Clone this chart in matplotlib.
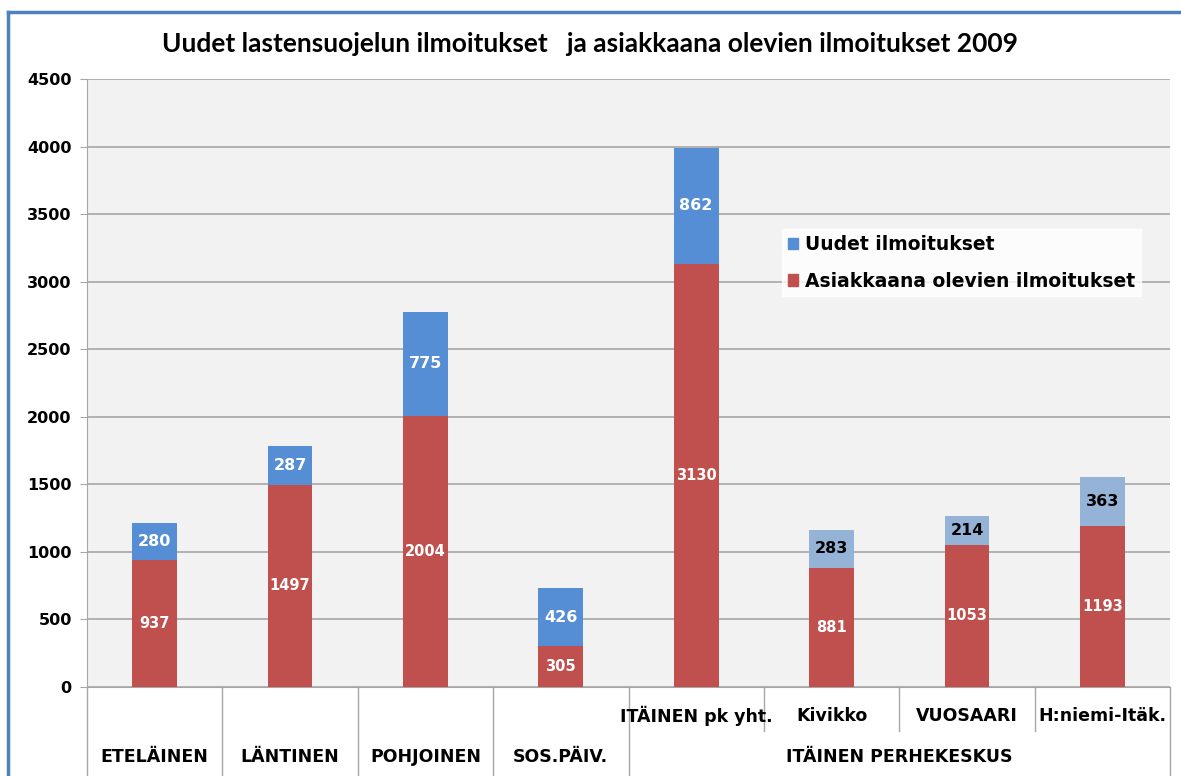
import matplotlib.pyplot as plt
from matplotlib.lines import Line2D
from matplotlib.patches import Patch

# data
groups = ["ETELÄINEN", "LÄNTINEN", "POHJOINEN", "SOS.PÄIV.", "ITÄINEN PERHEKESKUS"]
group_sizes = [1, 1, 1, 1, 4]
sub_labels = ["", "", "", "", "ITÄINEN pk yht.", "Kivikko", "VUOSAARI", "H:niemi-Itäk."]
asiakkaana = [937, 1497, 2004, 305, 3130, 881, 1053, 1193]
uudet = [280, 287, 775, 426, 862, 283, 214, 363]

RED = "#c0504d"
BLUE = "#558ed5"
LBLUE = "#95b3d7"

plt.rcParams['font.family'] = ['DejaVu Sans']

fig = plt.figure(figsize=(11.81, 7.76), dpi=100)
ax = fig.add_axes([87 / 1181, 89 / 776, 1083 / 1181, 608 / 776])
ax.set_facecolor("#f2f2f2")

x = list(range(len(asiakkaana)))
blue_cols = [BLUE] * 5 + [LBLUE] * 3
ax.bar(x, asiakkaana, width=0.33, color=RED, zorder=3)
ax.bar(x, uudet, width=0.33, bottom=asiakkaana, color=blue_cols, zorder=3)

for i in x:
    ax.text(i, asiakkaana[i] / 2, str(asiakkaana[i]), ha="center", va="center",
            color="white", fontsize=10.5, fontweight="bold", zorder=4)
    tc = "white" if i < 5 else "black"
    ax.text(i, asiakkaana[i] + uudet[i] / 2, str(uudet[i]), ha="center", va="center",
            color=tc, fontsize=11.5, fontweight="bold", zorder=4)

ax.set_xlim(-0.5, len(x) - 0.5)
ax.set_ylim(0, 4500)
ax.set_yticks(range(0, 4501, 500))
ax.yaxis.grid(True, color="#a6a6a6", linewidth=1.2, zorder=0)
ax.tick_params(axis="y", length=5, color="#a6a6a6", labelsize=11.5, pad=6)
for lab in ax.get_yticklabels():
    lab.set_fontweight("bold")
ax.set_xticks([])
for s in ["top", "right"]:
    ax.spines[s].set_visible(False)
ax.spines["left"].set_color("#a6a6a6")
ax.spines["bottom"].set_color("#a6a6a6")

# two-level category axis
tr = ax.get_xaxis_transform()
pos = -0.5
for g, n in zip(groups, group_sizes):
    ax.add_line(Line2D([pos, pos], [0, -0.2], transform=tr, color="#a6a6a6",
                       lw=1, clip_on=False))
    ax.text(pos + n / 2, -0.115, g, transform=tr, ha="center", va="center",
            fontsize=12.5, fontweight="bold")
    pos += n
ax.add_line(Line2D([pos, pos], [0, -0.2], transform=tr, color="#a6a6a6",
                   lw=1, clip_on=False))
for i, s in enumerate(sub_labels):
    if s:
        ax.text(i, -0.048, s, transform=tr, ha="center", va="center",
                fontsize=12.5, fontweight="bold")
        if i > 4:
            ax.add_line(Line2D([i - 0.5, i - 0.5], [0, -0.072], transform=tr,
                               color="#a6a6a6", lw=1, clip_on=False))

handles = [Patch(color=BLUE), Patch(color=RED)]
leg = ax.legend(handles, ["Uudet ilmoitukset", "Asiakkaana olevien ilmoitukset"],
                loc="upper left", bbox_to_anchor=(0.642, 0.753),
                prop={"weight": "bold", "size": 13.5}, frameon=True, fancybox=False,
                handlelength=0.55, handleheight=0.55, handletextpad=0.35,
                borderpad=0.3, labelspacing=0.95, borderaxespad=0)
leg.get_frame().set_edgecolor("white")
leg.get_frame().set_facecolor("white")
leg.set_zorder(5)

fig.text(0.5, 1 - 44 / 776, "Uudet lastensuojelun ilmoitukset   ja asiakkaana olevien ilmoitukset 2009",
         ha="center", va="center", fontsize=19, fontweight="bold", family=["Lato", "DejaVu Sans"])

# outer frame
fig.add_artist(Line2D([8 / 1181, 8 / 1181], [0, 1 - 12 / 776], color="#4f81bd", lw=2.5))
fig.add_artist(Line2D([8 / 1181, 1], [1 - 12 / 776, 1 - 12 / 776], color="#4f81bd", lw=2.5))

fig.savefig("out.png", dpi=100)
